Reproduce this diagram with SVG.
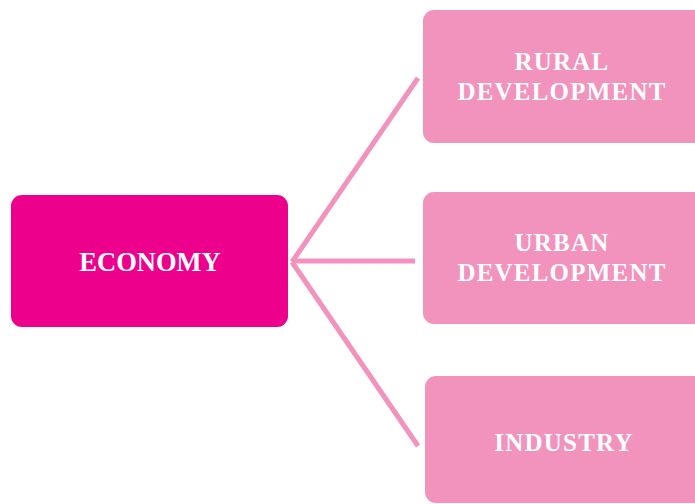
<svg xmlns="http://www.w3.org/2000/svg" width="695" height="504" viewBox="0 0 695 504">
<style>
.lbl{font-family:"Liberation Serif","Times New Roman",serif;font-weight:bold;fill:#ffffff;text-anchor:middle}
.sub{font-size:25px;letter-spacing:1.2px}
.conn{stroke:#F193BD;stroke-width:5;fill:none;stroke-linecap:butt}
.child{fill:#F193BD}
</style>
<rect width="695" height="504" fill="#ffffff"/>
<g id="connectors">
<line class="conn" x1="292" y1="262" x2="418" y2="78"/>
<line class="conn" x1="292" y1="261" x2="415" y2="261"/>
<line class="conn" x1="292" y1="262" x2="418" y2="446"/>
</g>
<g id="economy">
<rect x="11" y="195" width="277" height="132" rx="11" fill="#EC008C"/>
<text class="lbl" x="150" y="271" font-size="26.5">ECONOMY</text>
</g>
<g id="rural">
<rect class="child" x="423" y="10" width="282" height="133" rx="11"/>
<text class="lbl sub" x="562" y="70">RURAL</text>
<text class="lbl sub" x="562" y="100">DEVELOPMENT</text>
</g>
<g id="urban">
<rect class="child" x="423" y="192" width="282" height="132" rx="11"/>
<text class="lbl sub" x="562" y="251">URBAN</text>
<text class="lbl sub" x="562" y="281">DEVELOPMENT</text>
</g>
<g id="industry">
<rect class="child" x="425" y="376" width="280" height="127" rx="11"/>
<text class="lbl sub" x="564" y="451">INDUSTRY</text>
</g>
</svg>
